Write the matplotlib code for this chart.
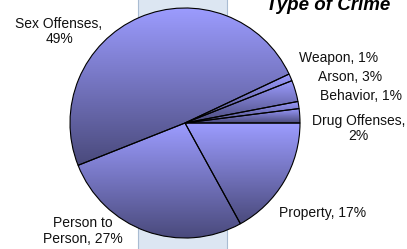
import matplotlib
matplotlib.use("Agg")
import matplotlib.pyplot as plt
import numpy as np
from matplotlib.colors import LinearSegmentedColormap
from matplotlib.patches import Rectangle

# slices, counterclockwise starting at 3 o'clock
labels = ["Drug Offenses,\n2%", "Behavior, 1%", "Arson, 3%", "Weapon, 1%",
          "Sex Offenses,\n49%", "Person to\nPerson, 27%", "Property, 17%"]
values = [2, 1, 3, 1, 49, 27, 17]
title = "Type of Crime"

plt.rcParams["font.family"] = ["Liberation Sans", "DejaVu Sans"]

fig = plt.figure(figsize=(4.07, 2.49), dpi=100)
ax = fig.add_axes([0, 0, 1, 1])

# light blue strip behind the pie
ax.add_patch(Rectangle((138, -2), 89, 260, fc="#dce6f2", ec="#a9bcd2", lw=0.8, zorder=0))

wedges, _ = ax.pie(values, startangle=0, counterclock=True, center=(185, 126), radius=115,
                   wedgeprops=dict(ec="black", lw=0.8, fc="none"), frame=True)

# vertical gradient inside every slice, light on top
cmap = LinearSegmentedColormap.from_list("grad", ["#9c9cff", "#4a4a7c"])
grad = np.linspace(0, 1, 256).reshape(-1, 1)
for w in wedges:
    bb = w.get_path().get_extents()
    im = ax.imshow(grad, cmap=cmap, extent=(bb.x0, bb.x1, bb.y0, bb.y1), origin="upper",
                   aspect="auto", interpolation="bilinear", zorder=1)
    im.set_clip_path(w)
    w.set_zorder(2)

ax.set_xlim(0, 407)
ax.set_ylim(0, 249)
ax.set_aspect("auto")
ax.axis("off")

# labels placed around the pie
pos = {
    "Drug Offenses,\n2%": (358.5, 120.5),
    "Behavior, 1%": (361, 153),
    "Arson, 3%": (350, 172),
    "Weapon, 1%": (339, 191),
    "Sex Offenses,\n49%": (59, 217.5),
    "Person to\nPerson, 27%": (83, 18),
    "Property, 17%": (323, 36),
}
for lab in labels:
    x, y = pos[lab]
    ax.text(x, y, lab, ha="center", va="center", multialignment="center",
            fontsize=10, color="#111111", linespacing=1.15)

# title sits partly above the top edge, as in the original
ax.text(328, 239, title, ha="center", va="baseline", fontsize=13.5,
        fontweight="bold", fontstyle="italic", color="black")

fig.savefig("out.png", dpi=100)
